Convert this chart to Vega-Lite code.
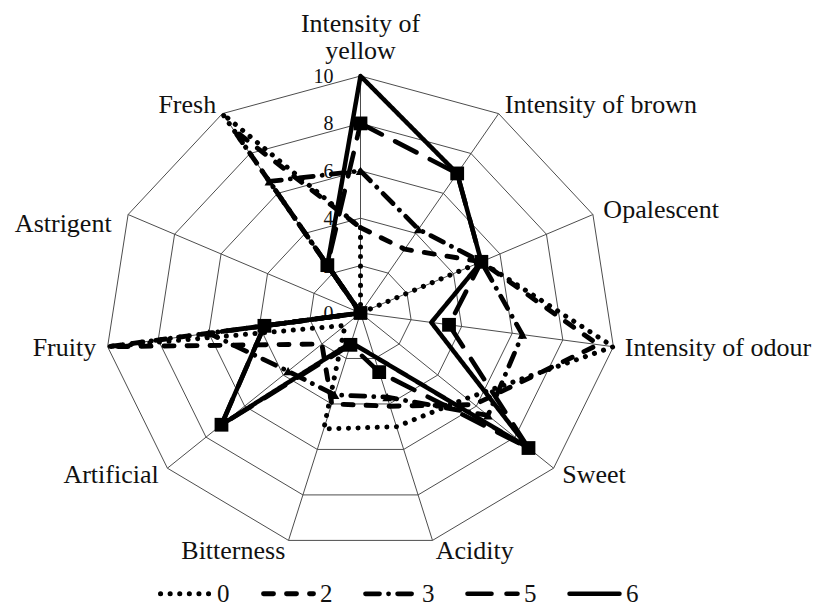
{
  "$schema": "https://vega.github.io/schema/vega-lite/v6.json",
  "width": 817,
  "height": 610,
  "autosize": {"type": "none"},
  "padding": 0,
  "background": "white",
  "config": {"view": {"stroke": null}, "font": "Liberation Serif"},
  "datasets": {
    "attrs": [
      {"attr": "Intensity of yellow", "i": 0},
      {"attr": "Intensity of brown", "i": 1},
      {"attr": "Opalescent", "i": 2},
      {"attr": "Intensity of odour", "i": 3},
      {"attr": "Sweet", "i": 4},
      {"attr": "Acidity", "i": 5},
      {"attr": "Bitterness", "i": 6},
      {"attr": "Artificial", "i": 7},
      {"attr": "Fruity", "i": 8},
      {"attr": "Astrigent", "i": 9},
      {"attr": "Fresh", "i": 10}
    ],
    "grid": [
      {"ring": 2, "i": 0}, {"ring": 2, "i": 1}, {"ring": 2, "i": 2}, {"ring": 2, "i": 3}, {"ring": 2, "i": 4}, {"ring": 2, "i": 5}, {"ring": 2, "i": 6}, {"ring": 2, "i": 7}, {"ring": 2, "i": 8}, {"ring": 2, "i": 9}, {"ring": 2, "i": 10},
      {"ring": 4, "i": 0}, {"ring": 4, "i": 1}, {"ring": 4, "i": 2}, {"ring": 4, "i": 3}, {"ring": 4, "i": 4}, {"ring": 4, "i": 5}, {"ring": 4, "i": 6}, {"ring": 4, "i": 7}, {"ring": 4, "i": 8}, {"ring": 4, "i": 9}, {"ring": 4, "i": 10},
      {"ring": 6, "i": 0}, {"ring": 6, "i": 1}, {"ring": 6, "i": 2}, {"ring": 6, "i": 3}, {"ring": 6, "i": 4}, {"ring": 6, "i": 5}, {"ring": 6, "i": 6}, {"ring": 6, "i": 7}, {"ring": 6, "i": 8}, {"ring": 6, "i": 9}, {"ring": 6, "i": 10},
      {"ring": 8, "i": 0}, {"ring": 8, "i": 1}, {"ring": 8, "i": 2}, {"ring": 8, "i": 3}, {"ring": 8, "i": 4}, {"ring": 8, "i": 5}, {"ring": 8, "i": 6}, {"ring": 8, "i": 7}, {"ring": 8, "i": 8}, {"ring": 8, "i": 9}, {"ring": 8, "i": 10},
      {"ring": 10, "i": 0}, {"ring": 10, "i": 1}, {"ring": 10, "i": 2}, {"ring": 10, "i": 3}, {"ring": 10, "i": 4}, {"ring": 10, "i": 5}, {"ring": 10, "i": 6}, {"ring": 10, "i": 7}, {"ring": 10, "i": 8}, {"ring": 10, "i": 9}, {"ring": 10, "i": 10}
    ],
    "ticks": [{"tick": 0}, {"tick": 2}, {"tick": 4}, {"tick": 6}, {"tick": 8}, {"tick": 10}],
    "scores": [
      {"series": "0", "attr": "Intensity of yellow", "value": 3.6},
      {"series": "0", "attr": "Intensity of brown", "value": 0},
      {"series": "0", "attr": "Opalescent", "value": 5.2},
      {"series": "0", "attr": "Intensity of odour", "value": 10},
      {"series": "0", "attr": "Sweet", "value": 5.5},
      {"series": "0", "attr": "Acidity", "value": 5},
      {"series": "0", "attr": "Bitterness", "value": 5.1},
      {"series": "0", "attr": "Artificial", "value": 0.8},
      {"series": "0", "attr": "Fruity", "value": 10},
      {"series": "0", "attr": "Astrigent", "value": 0},
      {"series": "0", "attr": "Fresh", "value": 10},
      {"series": "2", "attr": "Intensity of yellow", "value": 3.6},
      {"series": "2", "attr": "Intensity of brown", "value": 3.2},
      {"series": "2", "attr": "Opalescent", "value": 5.2},
      {"series": "2", "attr": "Intensity of odour", "value": 9.4},
      {"series": "2", "attr": "Sweet", "value": 5.9},
      {"series": "2", "attr": "Acidity", "value": 4.1},
      {"series": "2", "attr": "Bitterness", "value": 4},
      {"series": "2", "attr": "Artificial", "value": 2},
      {"series": "2", "attr": "Fruity", "value": 10},
      {"series": "2", "attr": "Astrigent", "value": 0},
      {"series": "2", "attr": "Fresh", "value": 9.2},
      {"series": "3", "attr": "Intensity of yellow", "value": 6},
      {"series": "3", "attr": "Intensity of brown", "value": 4.2},
      {"series": "3", "attr": "Opalescent", "value": 5.2},
      {"series": "3", "attr": "Intensity of odour", "value": 6.4},
      {"series": "3", "attr": "Sweet", "value": 6.6},
      {"series": "3", "attr": "Acidity", "value": 3.7},
      {"series": "3", "attr": "Bitterness", "value": 3.6},
      {"series": "3", "attr": "Artificial", "value": 3.75},
      {"series": "3", "attr": "Fruity", "value": 6},
      {"series": "3", "attr": "Astrigent", "value": 0},
      {"series": "3", "attr": "Fresh", "value": 6.6},
      {"series": "5", "attr": "Intensity of yellow", "value": 8},
      {"series": "5", "attr": "Intensity of brown", "value": 7},
      {"series": "5", "attr": "Opalescent", "value": 5.2},
      {"series": "5", "attr": "Intensity of odour", "value": 3.5},
      {"series": "5", "attr": "Sweet", "value": 8.7},
      {"series": "5", "attr": "Acidity", "value": 2.6},
      {"series": "5", "attr": "Bitterness", "value": 1.4},
      {"series": "5", "attr": "Artificial", "value": 7.2},
      {"series": "5", "attr": "Fruity", "value": 3.8},
      {"series": "5", "attr": "Astrigent", "value": 0},
      {"series": "5", "attr": "Fresh", "value": 2.4},
      {"series": "6", "attr": "Intensity of yellow", "value": 10},
      {"series": "6", "attr": "Intensity of brown", "value": 7},
      {"series": "6", "attr": "Opalescent", "value": 5.2},
      {"series": "6", "attr": "Intensity of odour", "value": 2.8},
      {"series": "6", "attr": "Sweet", "value": 8.7},
      {"series": "6", "attr": "Acidity", "value": 1.9},
      {"series": "6", "attr": "Bitterness", "value": 1.3},
      {"series": "6", "attr": "Artificial", "value": 7.2},
      {"series": "6", "attr": "Fruity", "value": 3.8},
      {"series": "6", "attr": "Astrigent", "value": 0},
      {"series": "6", "attr": "Fresh", "value": 2.4}
    ]
  },
  "layer": [
    {
      "data": {"name": "grid"},
      "transform": [
        {"calculate": "datum.i * 2 * PI / 11", "as": "a"},
        {"calculate": "datum.ring * sin(datum.a)", "as": "gx"},
        {"calculate": "datum.ring * cos(datum.a)", "as": "gy"}
      ],
      "mark": {"type": "line", "interpolate": "linear-closed", "color": "#4d4d4d", "strokeWidth": 1},
      "encoding": {
        "x": {"field": "gx", "type": "quantitative", "scale": {"domain": [-14.11, 17.867], "nice": false, "zero": false}, "axis": null},
        "y": {"field": "gy", "type": "quantitative", "scale": {"domain": [-12.532, 13.207], "nice": false, "zero": false}, "axis": null},
        "detail": {"field": "ring", "type": "nominal"},
        "order": {"field": "i", "type": "quantitative"}
      }
    },
    {
      "data": {"name": "attrs"},
      "transform": [
        {"calculate": "datum.i * 2 * PI / 11", "as": "a"},
        {"calculate": "0", "as": "ox"},
        {"calculate": "0", "as": "oy"},
        {"calculate": "10 * sin(datum.a)", "as": "sx"},
        {"calculate": "10 * cos(datum.a)", "as": "sy"}
      ],
      "mark": {"type": "rule", "color": "#4d4d4d", "strokeWidth": 1},
      "encoding": {
        "x": {"field": "ox", "type": "quantitative", "scale": {"domain": [-14.11, 17.867], "nice": false, "zero": false}, "axis": null},
        "y": {"field": "oy", "type": "quantitative", "scale": {"domain": [-12.532, 13.207], "nice": false, "zero": false}, "axis": null},
        "x2": {"field": "sx"},
        "y2": {"field": "sy"}
      }
    },
    {
      "data": {"name": "ticks"},
      "transform": [{"calculate": "0", "as": "ox"}],
      "mark": {"type": "text", "align": "right", "baseline": "middle", "dx": -27, "dy": 1, "fontSize": 20, "color": "#111111"},
      "encoding": {
        "x": {"field": "ox", "type": "quantitative", "scale": {"domain": [-14.11, 17.867], "nice": false, "zero": false}, "axis": null},
        "y": {"field": "tick", "type": "quantitative", "scale": {"domain": [-12.532, 13.207], "nice": false, "zero": false}, "axis": null},
        "text": {"field": "tick", "type": "quantitative"}
      }
    },
    {
      "data": {"name": "scores"},
      "transform": [
        {"lookup": "attr", "from": {"data": {"name": "attrs"}, "key": "attr", "fields": ["i"]}},
        {"calculate": "datum.i * 2 * PI / 11", "as": "a"},
        {"calculate": "datum.value * sin(datum.a)", "as": "px"},
        {"calculate": "datum.value * cos(datum.a)", "as": "py"}
      ],
      "mark": {"type": "line", "interpolate": "linear-closed", "color": "black", "strokeCap": "round", "strokeJoin": "round"},
      "encoding": {
        "x": {"field": "px", "type": "quantitative", "scale": {"domain": [-14.11, 17.867], "nice": false, "zero": false}, "axis": null},
        "y": {"field": "py", "type": "quantitative", "scale": {"domain": [-12.532, 13.207], "nice": false, "zero": false}, "axis": null},
        "order": {"field": "i", "type": "quantitative"},
        "strokeDash": {
          "field": "series", "type": "nominal",
          "scale": {"domain": ["0", "2", "3", "5", "6"], "range": [[0.1, 9.5], [10, 13], [14, 9, 0.1, 9], [24, 15], [1, 0]]},
          "legend": {
            "orient": "none", "legendX": 158, "legendY": 566, "direction": "horizontal", "title": null,
            "symbolType": "stroke", "symbolSize": 2500, "symbolStrokeWidth": 4.5, "symbolStrokeColor": "black",
            "labelFont": "Liberation Serif", "labelFontSize": 25, "labelColor": "#111111", "labelOffset": 4, "columnPadding": 23,
            "encode": {"symbols": {"update": {"strokeCap": {"value": "round"}}}}
          }
        },
        "strokeWidth": {
          "field": "series", "type": "nominal",
          "scale": {"domain": ["0", "2", "3", "5", "6"], "range": [5, 4.5, 4.5, 5, 4]},
          "legend": null
        }
      }
    },
    {
      "data": {"name": "scores"},
      "transform": [
        {"filter": "datum.series == '3' || datum.series == '5'"},
        {"lookup": "attr", "from": {"data": {"name": "attrs"}, "key": "attr", "fields": ["i"]}},
        {"calculate": "datum.i * 2 * PI / 11", "as": "a"},
        {"calculate": "datum.value * sin(datum.a)", "as": "px"},
        {"calculate": "datum.value * cos(datum.a)", "as": "py"}
      ],
      "mark": {"type": "point", "filled": true, "color": "black", "opacity": 1},
      "encoding": {
        "x": {"field": "px", "type": "quantitative", "scale": {"domain": [-14.11, 17.867], "nice": false, "zero": false}, "axis": null},
        "y": {"field": "py", "type": "quantitative", "scale": {"domain": [-12.532, 13.207], "nice": false, "zero": false}, "axis": null},
        "shape": {"field": "series", "type": "nominal", "scale": {"domain": ["3", "5"], "range": ["triangle-up", "square"]}, "legend": null},
        "size": {"field": "series", "type": "nominal", "scale": {"domain": ["3", "5"], "range": [90, 190]}, "legend": null}
      }
    },
    {
      "data": {"name": "attrs"},
      "transform": [
        {"filter": "datum.i == 0"},
        {"calculate": "0", "as": "lx"},
        {"calculate": "10", "as": "ly"},
        {"calculate": "['Intensity of', 'yellow']", "as": "label"}
      ],
      "mark": {"type": "text", "align": "center", "baseline": "middle", "dy": -52, "fontSize": 26, "lineHeight": 26.6, "color": "#111111"},
      "encoding": {
        "x": {"field": "lx", "type": "quantitative", "scale": {"domain": [-14.11, 17.867], "nice": false, "zero": false}, "axis": null},
        "y": {"field": "ly", "type": "quantitative", "scale": {"domain": [-12.532, 13.207], "nice": false, "zero": false}, "axis": null},
        "text": {"field": "label", "type": "nominal"}
      }
    },
    {
      "data": {"name": "attrs"},
      "transform": [
        {"filter": "datum.i >= 1 && datum.i <= 5"},
        {"calculate": "datum.i * 2 * PI / 11", "as": "a"},
        {"calculate": "10.45 * sin(datum.a)", "as": "lx"},
        {"calculate": "10.45 * cos(datum.a)", "as": "ly"}
      ],
      "mark": {"type": "text", "align": "left", "baseline": "middle", "fontSize": 26, "color": "#111111"},
      "encoding": {
        "x": {"field": "lx", "type": "quantitative", "scale": {"domain": [-14.11, 17.867], "nice": false, "zero": false}, "axis": null},
        "y": {"field": "ly", "type": "quantitative", "scale": {"domain": [-12.532, 13.207], "nice": false, "zero": false}, "axis": null},
        "text": {"field": "attr", "type": "nominal"}
      }
    },
    {
      "data": {"name": "attrs"},
      "transform": [
        {"filter": "datum.i >= 6 && datum.i != 9"},
        {"calculate": "datum.i * 2 * PI / 11", "as": "a"},
        {"calculate": "10.45 * sin(datum.a)", "as": "lx"},
        {"calculate": "10.45 * cos(datum.a)", "as": "ly"}
      ],
      "mark": {"type": "text", "align": "right", "baseline": "middle", "fontSize": 26, "color": "#111111"},
      "encoding": {
        "x": {"field": "lx", "type": "quantitative", "scale": {"domain": [-14.11, 17.867], "nice": false, "zero": false}, "axis": null},
        "y": {"field": "ly", "type": "quantitative", "scale": {"domain": [-12.532, 13.207], "nice": false, "zero": false}, "axis": null},
        "text": {"field": "attr", "type": "nominal"}
      }
    },
    {
      "data": {"name": "attrs"},
      "transform": [
        {"filter": "datum.i == 9"},
        {"calculate": "datum.i * 2 * PI / 11", "as": "a"},
        {"calculate": "10.45 * sin(datum.a)", "as": "lx"},
        {"calculate": "10.45 * cos(datum.a)", "as": "ly"}
      ],
      "mark": {"type": "text", "align": "right", "baseline": "middle", "dx": -6, "dy": 14, "fontSize": 26, "color": "#111111"},
      "encoding": {
        "x": {"field": "lx", "type": "quantitative", "scale": {"domain": [-14.11, 17.867], "nice": false, "zero": false}, "axis": null},
        "y": {"field": "ly", "type": "quantitative", "scale": {"domain": [-12.532, 13.207], "nice": false, "zero": false}, "axis": null},
        "text": {"field": "attr", "type": "nominal"}
      }
    }
  ]
}
